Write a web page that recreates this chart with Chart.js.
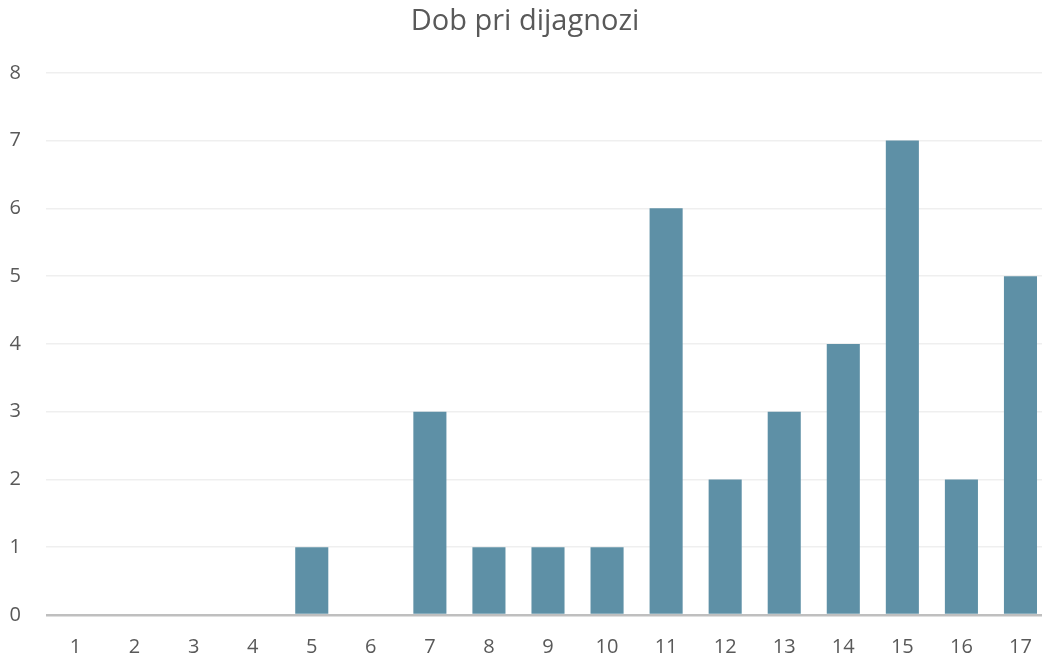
<!DOCTYPE html>
<html>
<head>
<meta charset="utf-8">
<script src="https://cdn.jsdelivr.net/npm/chart.js@4/dist/chart.umd.min.js"></script>
<style>
  html,body{margin:0;padding:0;background:#fff;overflow:hidden}
  #wrap{width:1050px;height:659px;position:relative}
</style>
</head>
<body>
<div id="wrap"><canvas id="c"></canvas></div>
<script>
/* podaci: dob pri dijagnozi */
const ages   = ['1','2','3','4','5','6','7','8','9','10','11','12','13','14','15','16','17'];
const counts = [0,0,0,0,1,0,3,1,1,1,6,2,3,4,7,2,5];
const yTicks = [0,1,2,3,4,5,6,7,8];

const TXT = '#595959', FONT = '"Open Sans", sans-serif';

new Chart(document.getElementById('c'), {
  type:'bar',
  data:{
    labels:ages,
    datasets:[{
      data:counts,
      backgroundColor:'#5e90a6',
      borderWidth:0,
      categoryPercentage:1,
      barPercentage:0.56
    }]
  },
  options:{
    responsive:true, maintainAspectRatio:false, animation:false,
    layout:{padding:{left:0,right:0,top:0,bottom:0}},
    plugins:{
      legend:{display:false}, tooltip:{enabled:false},
      title:{display:true,text:'Dob pri dijagnozi',color:TXT,
        font:{family:FONT,size:29,weight:'normal'},padding:{top:4,bottom:34}}
    },
    scales:{
      x:{
        grid:{display:false}, border:{display:false},
        ticks:{color:TXT,font:{family:FONT,size:20},padding:12},
        afterFit:s=>{s.height=44;}
      },
      y:{
        min:0,max:8,
        afterBuildTicks:s=>{s.ticks=yTicks.map(v=>({value:v}));},
        grid:{drawTicks:false,
          color:c=>c.tick.value===0?'#bfbfbf':'#efefef',
          lineWidth:c=>c.tick.value===0?2.5:1.5},
        border:{display:false},
        ticks:{color:TXT,font:{family:FONT,size:20},padding:25},
        afterFit:s=>{s.width=46;}
      }
    }
  }
});
</script>
</body>
</html>
